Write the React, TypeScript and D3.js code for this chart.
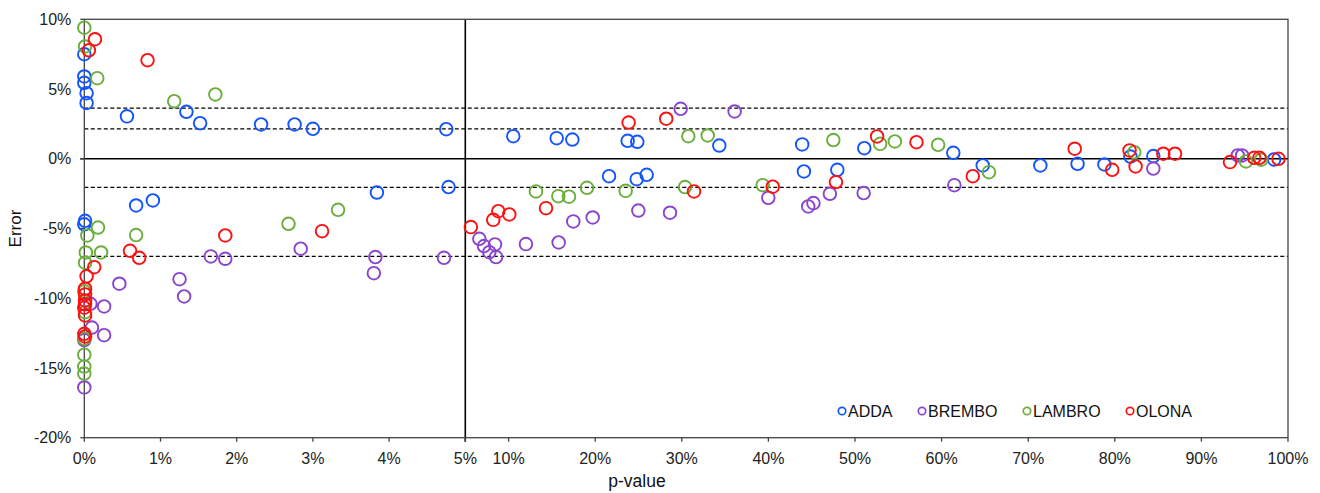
import React from "react";
import * as d3 from "d3";

// p-value (%) and error (%) pairs per river
const addaData: [number, number][] = [
  [0.0, 7.5], [0.0, 5.9], [0.0, 5.45], [0.03, 4.7], [0.03, 4.0], [0.56, 3.04], [1.34, 3.37], [1.52, 2.55],
  [2.32, 2.46], [2.76, 2.46], [3.0, 2.15], [4.75, 2.12], [4.78, -2.03], [3.84, -2.42], [0.68, -3.35],
  [0.9, -2.99], [0.01, -4.45], [0.0, -4.7],
  [10.54, 1.62], [15.55, 1.48], [17.36, 1.38], [23.75, 1.29], [24.86, 1.22], [34.33, 0.95], [43.9, 1.03],
  [51.07, 0.76], [21.6, -1.25], [24.79, -1.46], [25.94, -1.15], [44.1, -0.91], [47.96, -0.79], [61.35, 0.43],
  [64.75, -0.48], [71.4, -0.48], [75.7, -0.36], [78.8, -0.41], [81.8, 0.16], [84.45, 0.19], [98.4, -0.05],
];
const bremboData: [number, number][] = [
  [2.84, -6.45], [1.66, -7.0], [1.85, -7.17], [3.82, -7.05], [3.8, -8.2], [4.72, -7.1], [1.25, -8.63],
  [1.31, -9.87], [0.46, -8.96], [0.26, -10.59], [0.08, -10.4], [0.1, -12.1], [0.26, -12.65], [0.0, -13.0],
  [0.0, -16.4],
  [6.62, -5.74], [7.16, -6.26], [7.77, -6.7], [8.43, -6.14], [8.55, -7.05], [12.0, -6.12], [15.78, -6.0],
  [17.47, -4.49], [19.71, -4.21], [24.98, -3.71], [28.64, -3.87], [29.87, 3.58], [36.1, 3.39], [39.99, -2.8],
  [44.6, -3.42], [45.2, -3.18], [47.1, -2.51], [51.0, -2.46], [61.47, -1.89], [84.45, -0.7], [94.2, 0.24],
  [94.7, 0.24],
];
const lambroData: [number, number][] = [
  [0.0, 9.4], [0.01, 8.05], [0.17, 5.78], [1.18, 4.13], [1.72, 4.61], [0.18, -4.93], [0.04, -5.5],
  [0.68, -5.47], [2.68, -4.66], [3.33, -3.66], [0.02, -6.72], [0.22, -6.72], [0.01, -7.45], [0.0, -9.5],
  [0.01, -11.0], [0.0, -12.9], [0.0, -14.05], [0.0, -14.9], [0.0, -15.4],
  [13.16, -2.34], [15.74, -2.68], [16.97, -2.72], [19.05, -2.08], [23.52, -2.3], [30.37, -2.03], [39.34, -1.89],
  [30.75, 1.62], [32.99, 1.67], [47.5, 1.34], [52.9, 1.07], [54.6, 1.24], [59.6, 1.0], [65.47, -0.96],
  [82.25, 0.47], [95.15, -0.19], [96.9, -0.07],
];
const olonaData: [number, number][] = [
  [0.14, 8.57], [0.06, 7.78], [0.83, 7.07], [1.85, -5.5], [3.12, -5.19], [0.6, -6.6], [0.72, -7.1],
  [0.13, -7.77], [0.03, -8.43], [0.01, -9.32], [0.01, -9.73], [0.01, -10.16], [0.01, -10.44], [0.0, -10.68],
  [0.01, -11.23], [0.0, -12.55], [0.01, -12.74],
  [5.64, -4.9], [8.23, -4.38], [8.81, -3.76], [10.08, -3.99], [14.32, -3.54], [23.86, 2.6], [28.2, 2.87],
  [31.41, -2.34], [40.5, -2.0], [47.8, -1.67], [52.55, 1.6], [57.1, 1.19], [63.6, -1.25], [75.37, 0.72],
  [79.7, -0.79], [81.7, 0.6], [82.4, -0.55], [85.6, 0.36], [86.95, 0.36], [93.3, -0.24], [96.1, 0.07],
  [96.7, 0.07], [98.9, 0.0],
];

const seriesNames = ["ADDA", "BREMBO", "LAMBRO", "OLONA"];
const seriesColors = ["#1255ff", "#8a45cf", "#6aae3c", "#ff1010"];
const seriesData = [addaData, bremboData, lambroData, olonaData];

const xTicksLeft = [0, 1, 2, 3, 4, 5];
const xTicksRight = [10, 20, 30, 40, 50, 60, 70, 80, 90, 100];
const yTicks = [10, 5, 0, -5, -10, -15, -20];
const dashedLevels = [3.63, 2.15, -2.05, -7.0];

const FONT = "'Liberation Sans', Arial, sans-serif";

export default function App() {
  const left = 84.3, right = 1288, top = 19.3, bottom = 437.7;
  const x = d3.scaleLinear().domain([0, 5, 100]).range([left, 465.3, right]);
  const y = d3.scaleLinear().domain([-20, 10]).range([bottom, top]);
  const allTicks = [...xTicksLeft, ...xTicksRight];
  const fmt = (v: number) => `${v}%`;
  const legendX = [842, 922, 1027, 1130];

  return (
    <svg width={1320} height={493} style={{ position: "absolute", left: 0, top: 0, background: "#fff" }} fontFamily={FONT}>
      <rect x={0} y={0} width={1320} height={493} fill="#fff" />
      {/* dashed reference lines */}
      {dashedLevels.map((d) => (
        <line key={d} x1={left} x2={right} y1={y(d)} y2={y(d)} stroke="#000" strokeWidth={1.3} strokeDasharray="4 2.5" />
      ))}
      {/* zero line */}
      <line x1={left - 4} x2={right} y1={y(0)} y2={y(0)} stroke="#000" strokeWidth={1.6} />
      {/* 5% separator */}
      <line x1={x(5)} x2={x(5)} y1={top} y2={bottom + 4} stroke="#000" strokeWidth={1.6} />
      {/* frame */}
      <rect x={left} y={top} width={right - left} height={bottom - top} fill="none" stroke="#444" strokeWidth={1.3} />
      {/* y ticks */}
      {yTicks.map((t) => (
        <g key={t}>
          <line x1={left - 4} x2={left} y1={y(t)} y2={y(t)} stroke="#444" strokeWidth={1.3} />
          <text x={left - 13} y={y(t)} dy="0.35em" textAnchor="end" fontSize={16} fill="#222">{fmt(t)}</text>
        </g>
      ))}
      {/* x ticks */}
      {allTicks.map((t) => (
        <g key={t}>
          <line x1={x(t)} x2={x(t)} y1={bottom} y2={bottom + 4} stroke="#444" strokeWidth={1.3} />
          <text x={x(t)} y={bottom + 26} textAnchor="middle" fontSize={16} fill="#222">{fmt(t)}</text>
        </g>
      ))}
      {/* axis titles */}
      <text transform={`translate(21,${(top + bottom) / 2}) rotate(-90)`} textAnchor="middle" fontSize={17} fill="#111">Error</text>
      <text x={637} y={487} textAnchor="middle" fontSize={17.5} fill="#111">p-value</text>
      {/* points */}
      {seriesData.map((data, i) => (
        <g key={seriesNames[i]}>
          {data.map((d, j) => (
            <circle key={j} cx={x(d[0])} cy={y(d[1])} r={6.3} fill="none" stroke={seriesColors[i]} strokeWidth={1.9} />
          ))}
        </g>
      ))}
      {/* legend */}
      {seriesNames.map((n, i) => (
        <g key={n}>
          <circle cx={legendX[i]} cy={411} r={3.7} fill="none" stroke={seriesColors[i]} strokeWidth={1.7} />
          <text x={legendX[i] + 6} y={411} dy="0.36em" fontSize={16} fill="#111">{n}</text>
        </g>
      ))}
    </svg>
  );
}
